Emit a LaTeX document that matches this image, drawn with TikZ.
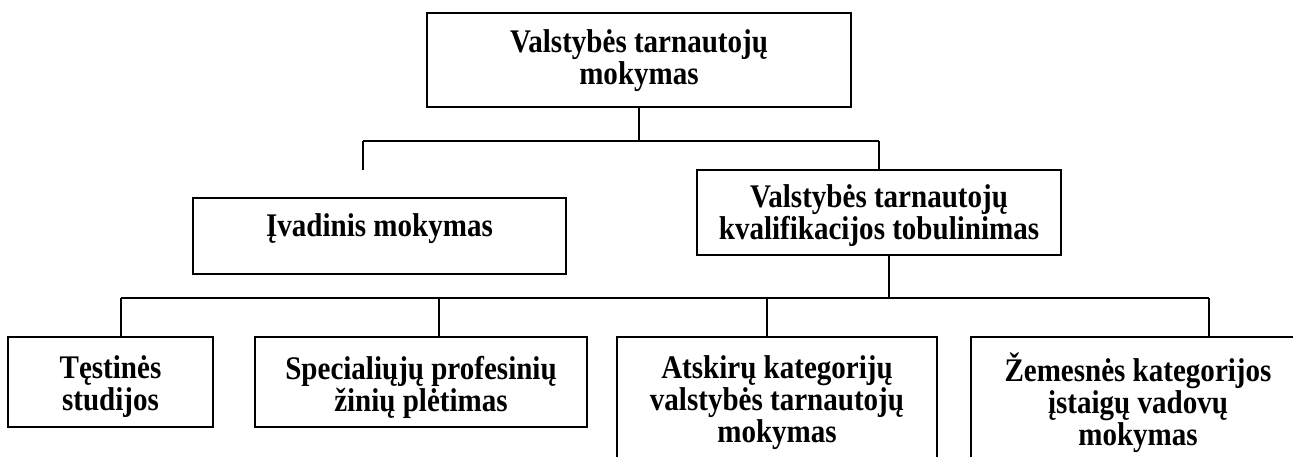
\documentclass[tikz,border=0pt]{standalone}
\usepackage{fontspec}
\setmainfont{Liberation Serif}[FakeStretch=0.88]
\begin{document}
\begin{tikzpicture}[x=1pt,y=-1pt,
  box/.style={draw,line width=2.1pt,rectangle,inner sep=0pt},
  txt/.style={font=\fontsize{33}{32}\selectfont\bfseries,align=center,inner sep=0pt},
  link/.style={line width=2.1pt}]
\useasboundingbox (0,0) rectangle (1293,457);
\clip (0,0) rectangle (1293,457);

% boxes
\node[box,minimum width=424pt,minimum height=94pt] (top) at (639,60) {};
\node[box,minimum width=373pt,minimum height=76pt] (intro) at (379.5,236) {};
\node[box,minimum width=364pt,minimum height=85pt] (qual) at (879,212.5) {};
\node[box,minimum width=205pt,minimum height=90pt] (cont) at (110.5,382) {};
\node[box,minimum width=332pt,minimum height=90pt] (spec) at (421,382) {};
\node[box,minimum width=320pt,minimum height=124pt] (sep) at (777,399) {};
\node[box,minimum width=334pt,minimum height=124pt] (low) at (1138,399) {};

% labels
\node[txt] at (top.center) [yshift=-1pt] {Valstybės tarnautojų\\mokymas};
\node[txt] at (intro.center) [yshift=7pt] {Įvadinis mokymas};
\node[txt] at (qual.center) [yshift=-3pt] {Valstybės tarnautojų\\kvalifikacijos tobulinimas};
\node[txt] at (cont.center) [yshift=-5pt] {Tęstinės\\studijos};
\node[txt] at (spec.center) [yshift=-5pt] {Specialiųjų profesinių\\žinių plėtimas};
\node[txt] at (sep.center) [yshift=-4pt] {Atskirų kategorijų\\valstybės tarnautojų\\mokymas};
\node[txt] at (low.center) [yshift=-4pt] {Žemesnės kategorijos\\įstaigų vadovų\\mokymas};

% upper connectors
\coordinate (j1) at (639,141);
\coordinate (l1) at (363,141);
\coordinate (r1) at (879,141);
\coordinate (lend) at (363,170);
\draw[link] (top.south) -- (j1);
\draw[link] (l1) -- (r1);
\draw[link] (l1) -- (lend);
\draw[link] (r1) -- (qual.north);

% lower connectors
\coordinate (j2) at (889,298);
\coordinate (d1) at (121,298);
\coordinate (d2) at (439,298);
\coordinate (d3) at (767,298);
\coordinate (d4) at (1209,298);
\draw[link] (qual.south -| j2) -- (j2);
\draw[link] (d1) -- (d4);
\draw[link] (d1) -- (d1 |- cont.north);
\draw[link] (d2) -- (d2 |- spec.north);
\draw[link] (d3) -- (d3 |- sep.north);
\draw[link] (d4) -- (d4 |- low.north);
\end{tikzpicture}
\end{document}
